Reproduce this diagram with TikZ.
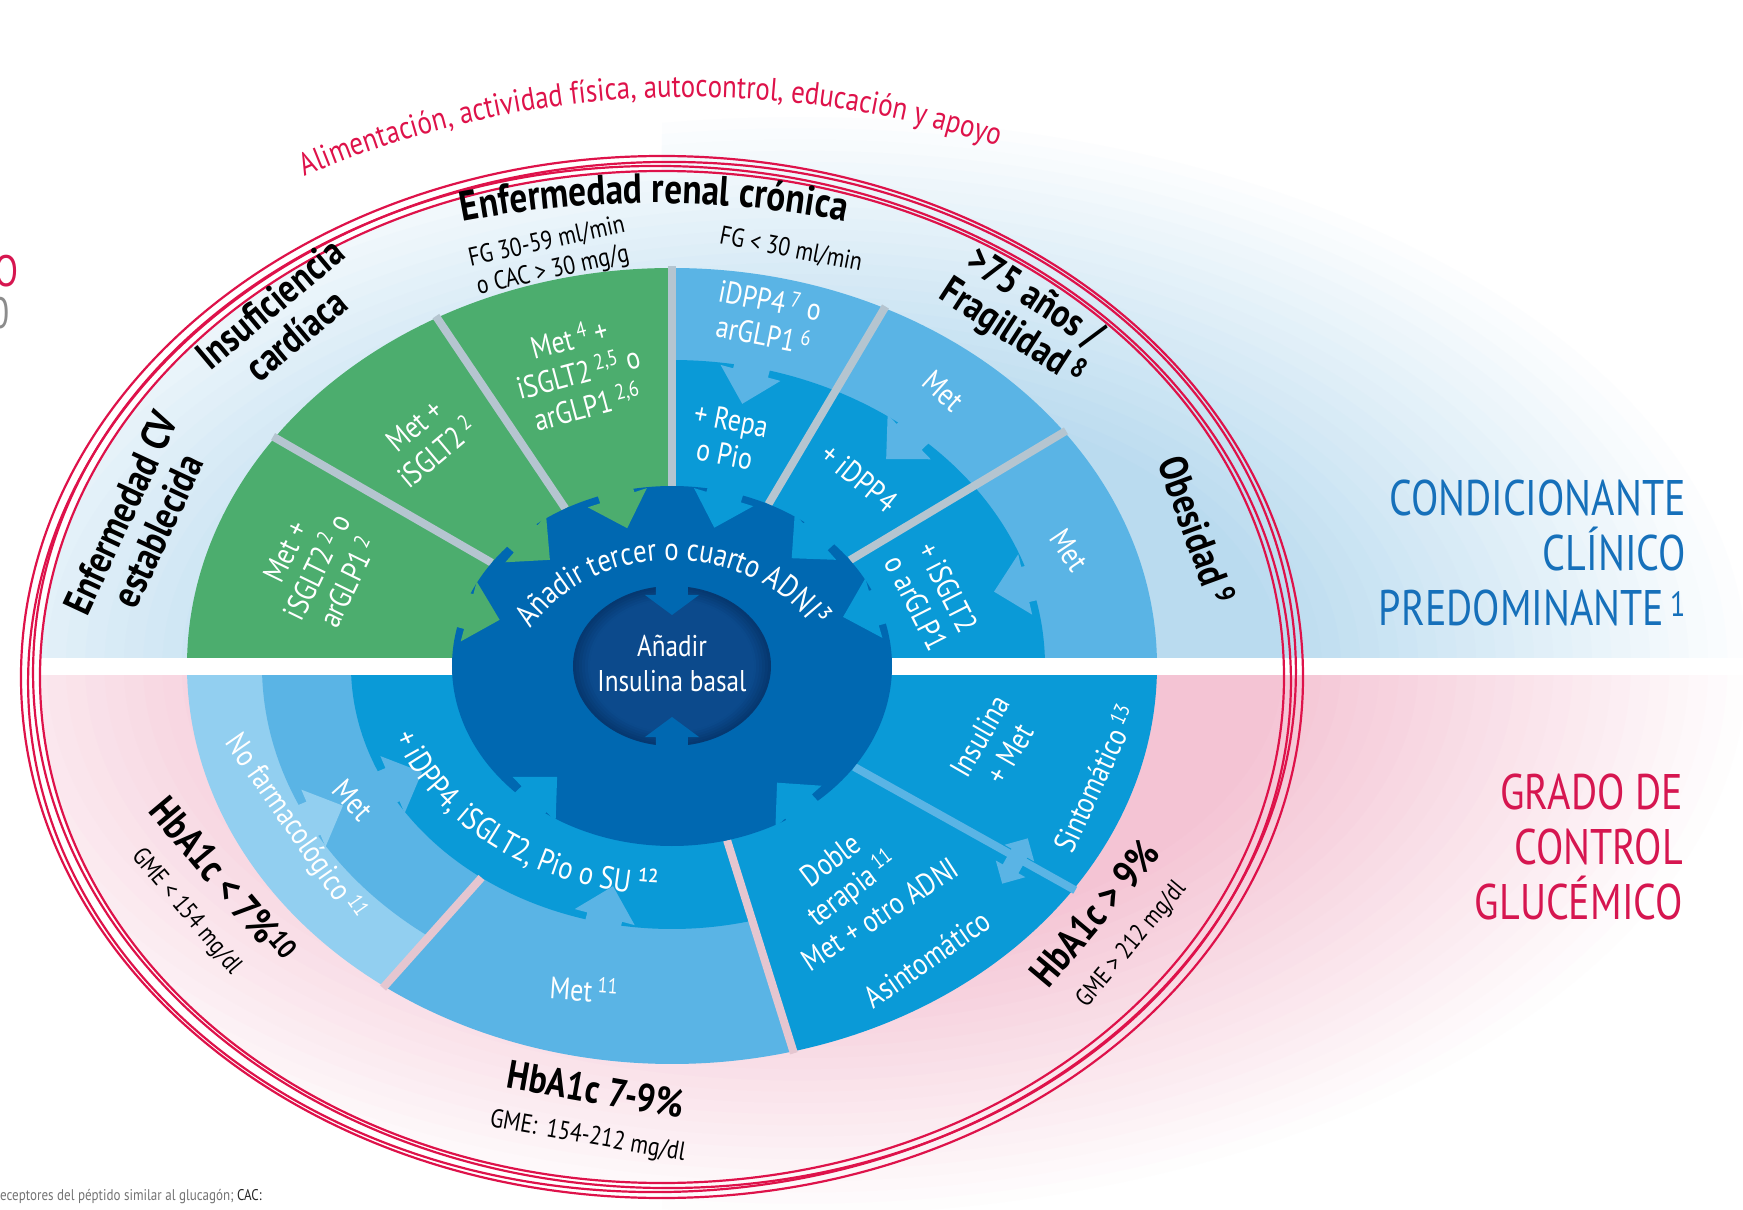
\documentclass[tikz,border=0pt]{standalone}
\usepackage{fontspec}
\setmainfont{PT Sans}[FakeStretch=0.84]
\newfontfamily\titlefont{PT Sans}[FakeStretch=0.8]
\usetikzlibrary{decorations.text}

\definecolor{cgreen}{RGB}{76,173,110}
\definecolor{clight}{RGB}{90,180,229}
\definecolor{cmed}{RGB}{10,154,215}
\definecolor{cdark}{RGB}{0,104,177}
\definecolor{cnavy}{RGB}{12,74,140}
\definecolor{cnavyedge}{RGB}{6,56,112}
\definecolor{cpale}{RGB}{146,207,240}
\definecolor{cgrey}{RGB}{181,197,208}
\definecolor{cpinkline}{RGB}{229,198,208}
\definecolor{cred}{RGB}{222,18,74}
\definecolor{ctitleblue}{RGB}{22,112,186}
\definecolor{ctitlered}{RGB}{214,22,80}
\definecolor{bgblue}{RGB}{186,219,239}
\definecolor{bgpink}{RGB}{244,196,212}

% soft elliptical fade used for both halves of the background
\newcommand\bgfade[1]{%
  \foreach \s in {1.00,0.98,...,0.49}{%
    \pgfmathsetmacro\p{min(100,(1-\s)*200)}%
    \fill[#1!\p!white] (128,0) ellipse ({966*\s} and {560*\s});
  }}
% elliptical pie slice: colour, start, end (parametric angles), x radius, y radius
\newcommand\wsector[5]{\fill[#1] (0,0) -- ({#4*cos(#2)},{#5*sin(#2)})
  arc[start angle=#2, end angle=#3, x radius=#4, y radius=#5] -- cycle;}
% radial divider: colour, angle, inner radii, outer radii
\newcommand\wsep[6]{\draw[#1, line width=8] ({#3*cos(#2)},{#4*sin(#2)}) -- ({#5*cos(#2)},{#6*sin(#2)});}
% block arrow crossing the ellipse (a,b) at a visual angle, pointing inwards
\newcommand\inarrow[4]{%
  \pgfmathsetmacro\rr{#3/sqrt(cos(#2)^2+(#3/#4)^2*sin(#2)^2)}%
  \pic[fill=#1, rotate=#2+180] at ({\rr*cos(#2)},{\rr*sin(#2)}) {blockarrow};}

\begin{document}
\begin{tikzpicture}[x=1pt,y=1pt,
  blockarrow/.pic={\path[pic actions] (-42,-18) -- (6,-18) -- (6,-31) -- (38,0) -- (6,31) -- (6,18) -- (-42,18) -- cycle;},
  notcharrow/.pic={\path[pic actions] (-34,-16) -- (0,-16) -- (0,-27) -- (20,0) -- (0,27) -- (0,16) -- (-34,16) -- cycle;},
  dblarrow/.pic={\path[pic actions] (-26,0) -- (-9,-17) -- (-9,-9) -- (9,-9) -- (9,-17) -- (26,0) -- (9,17) -- (9,9) -- (-9,9) -- (-9,17) -- cycle;},
  lbl/.style={font=\fontsize{40}{41}\selectfont\bfseries, align=center, inner sep=0pt, text=black},
  sublbl/.style={font=\fontsize{26}{29}\selectfont, align=center, inner sep=0pt, text=black},
  wlbl/.style={font=\fontsize{31}{35}\selectfont, align=center, inner sep=0pt, text=white},
  ttl/.style={anchor=north east, inner sep=0pt, align=right, font=\titlefont\fontsize{50}{55}\selectfont},
]
\useasboundingbox (-672,-544) rectangle (1071,666);

% ---------- backgrounds ----------
\begin{scope}
  \clip (-10,9) rectangle (1071,666);
  \bgfade{bgblue}
\end{scope}
\begin{scope}
  \clip (-672,9) rectangle (1071,666);
  \clip (-10,-11) ellipse (622 and 506);
  \bgfade{bgblue}
\end{scope}
\begin{scope}
  \clip (-10,-9) rectangle (1071,-544);
  \bgfade{bgpink}
\end{scope}
\begin{scope}
  \clip (-672,-9) rectangle (1071,-544);
  \clip (-10,-11) ellipse (622 and 506);
  \bgfade{bgpink}
\end{scope}

% ---------- red rings ----------
\begin{scope}[cred, line width=2.2]
  \draw (-10,-11) ellipse (641 and 521);
  \draw[rotate around={1.5:(-10,-11)}] (-10,-11) ellipse (634 and 515);
  \draw[rotate around={-1.2:(-10,-11)}] (-10,-11) ellipse (629 and 511);
  \draw (-10,-11) ellipse (622 and 506);
\end{scope}

% ---------- upper half: clinical condition ----------
\begin{scope}
  \clip (-700,9) rectangle (700,500);
  \wsector{cgreen}{90}{180}{485}{398}
  \wsector{clight}{0}{90}{485}{398}
  \wsector{cmed}{0}{90}{373}{306}
  \foreach \t in {145,119,90,64,36}{\wsep{cgrey}{\t}{220}{180}{487}{400}}
\end{scope}

% ---------- lower half: glycaemic control ----------
\begin{scope}
  \clip (-700,-9) rectangle (700,-500);
  \wsector{cpale}{180}{233.6}{485}{398}
  \wsector{clight}{233.6}{284.5}{485}{398}
  \wsector{cmed}{284.5}{360}{485}{398}
  \wsector{clight}{180}{233.6}{410}{336}
  \wsector{cmed}{180}{284.5}{321}{263}
  \wsep{cpinkline}{233.6}{321}{263}{487}{400}
  \wsep{cpinkline}{284.5}{220}{180}{487}{400}
  \wsep{clight}{325.9}{220}{180}{487}{400}
\end{scope}

% arrows between outer rings
\inarrow{clight}{75}{373}{306}
\inarrow{clight}{44}{373}{306}
\inarrow{clight}{13}{373}{306}
\inarrow{cpale}{203}{410}{336}
\inarrow{clight}{203}{321}{263}
\inarrow{clight}{255}{321}{263}
\pic[fill=clight, rotate=60.6] at (343,-195) {dblarrow};

% ---------- central disks ----------
\fill[cdark] (0,0) ellipse (220 and 180);
\inarrow{cgreen}{165}{220}{180}
\inarrow{cgreen}{139}{220}{180}
\inarrow{cgreen}{108}{220}{180}
\inarrow{cmed}{73}{220}{180}
\inarrow{cmed}{42}{220}{180}
\inarrow{cmed}{16}{220}{180}
\inarrow{cmed}{224}{220}{180}
\inarrow{cmed}{312}{220}{180}

\foreach \s in {1.00,0.97,...,0.84}{%
  \pgfmathsetmacro\p{(1-\s)*620}%
  \fill[cnavy!\p!cnavyedge] (0,0) ellipse ({99*\s} and {80*\s});}
\fill[cnavy] (0,0) ellipse (82 and 66);
\pic[fill=cdark, rotate=-90] at (0,71) {notcharrow};
\pic[fill=cdark, rotate=90] at (0,-71) {notcharrow};

% ---------- curved texts ----------
\path[decorate, decoration={text along path, text align=center, text color=cred,
  text={|\fontsize{32}{34}\selectfont|Alimentación, actividad física, autocontrol, educación y apoyo}}]
  ({19+978*cos(115)},{-409+978*sin(115)}) arc[start angle=115, end angle=70, radius=978];
\path[decorate, decoration={text along path, text align=center,
  text={|\fontsize{42}{44}\selectfont\bfseries|Enfermedad renal crónica}}]
  ({-18+1000*cos(112)},{-537+1000*sin(112)}) arc[start angle=112, end angle=68, radius=1000];
\path[decorate, decoration={text along path, text align=center, text color=white,
  text={|\fontsize{32}{34}\selectfont|Añadir tercer o cuarto ADNI³}}]
  ({165*cos(186)},{-36+142*sin(186)}) arc[start angle=186, end angle=-6, x radius=165, y radius=142];
\path[decorate, decoration={text along path, text align=center, text color=white,
  text={|\fontsize{32}{34}\selectfont|+ iDPP4, iSGLT2, Pio o SU ¹²}}]
  ({291*cos(183)},{229*sin(183)}) arc[start angle=183, end angle=279, x radius=291, y radius=229];

% ---------- outer labels ----------
\node[lbl, rotate=65] (cv) at (-533,144) {Enfermedad CV\\establecida};
\node[lbl, rotate=40] (ic) at (-389,347) {Insuficiencia\\cardíaca};
\node[sublbl, rotate=12.5] (fga) at (-122,409) {FG 30-59 ml/min\\o CAC > 30 mg/g};
\node[sublbl, rotate=-11] (fgb) at (119,416) {FG < 30 ml/min};
\node[lbl, rotate=-33] (age) at (351,349) {>75 años /\\Fragilidad\,\textsuperscript{8}};
\node[lbl, rotate=-70] (obes) at (525,136) {Obesidad\,\textsuperscript{9}};

\node[lbl, rotate=-50] (hba) at (-466,-229) {HbA1c < 7\%\textsuperscript{10}\\{\fontsize{25}{28}\selectfont\mdseries GME < 154 mg/dl}};
\node[lbl, rotate=-10] (hbb) at (-80,-446) {HbA1c 7-9\%\\{\fontsize{26}{28}\selectfont\mdseries GME:\, 154-212 mg/dl}};
\node[lbl, rotate=50] (hbc) at (440,-262) {HbA1c > 9\%\\{\fontsize{25}{28}\selectfont\mdseries GME > 212 mg/dl}};

% ---------- labels inside the wheel ----------
\node[wlbl, rotate=64] (w1) at (-355,99) {Met +\\iSGLT2\,\textsuperscript{2} o\\arGLP1\,\textsuperscript{2}};
\node[wlbl, rotate=40] (w2) at (-246,227) {Met +\\iSGLT2\,\textsuperscript{2}};
\node[wlbl, rotate=15] (w3) at (-94,294) {Met\,\textsuperscript{4} +\\iSGLT2\,\textsuperscript{2,5} o\\arGLP1\,\textsuperscript{2,6}};
\node[wlbl, rotate=-11] (w4) at (95,349) {iDPP4\,\textsuperscript{7} o\\arGLP1\,\textsuperscript{6}};
\node[wlbl, rotate=-11] (w5) at (56,229) {+ Repa\\o Pio};
\node[wlbl, rotate=-42] (w6) at (271,275) {Met};
\node[wlbl, rotate=-39] (w7) at (187,188) {+ iDPP4};
\node[wlbl, rotate=-56] (w8) at (397,116) {Met};
\node[wlbl, rotate=-63] (w9) at (260,71) {+ iSGLT2\\o arGLP1};
\node[wlbl, font=\fontsize{30}{35}\selectfont] (ins) at (0,3) {Añadir\\Insulina basal};
\node[wlbl, rotate=-55] (w10) at (-377,-162) {No farmacológico\,\textsuperscript{11}};
\node[wlbl, rotate=-48] (w11) at (-319,-134) {Met};
\node[wlbl, rotate=-4] (w12) at (-88,-323) {Met\,\textsuperscript{11}};
\node[wlbl, rotate=37] (w13) at (171,-210) {Doble\\terapia\,\textsuperscript{11}};
\node[wlbl, rotate=33] (w14) at (208,-248) {Met + otro ADNI};
\node[wlbl, rotate=35] (w15) at (255,-293) {Asintomático};
\node[wlbl, rotate=60] (w16) at (323,-79) {Insulina\\+ Met};
\node[wlbl, rotate=65] (w17) at (423,-112) {Sintomático\,\textsuperscript{13}};

% ---------- side titles ----------
\node[ttl, text=ctitleblue] (cond) at (1014,186) {CONDICIONANTE\\CLÍNICO\hspace*{12pt}\\PREDOMINANTE\textsuperscript{\,1}};
\node[ttl, text=ctitlered] (grado) at (1011,-108) {GRADO DE\\CONTROL\hspace*{10pt}\\GLUCÉMICO};

% ---------- page remnants ----------
\node[anchor=base east, inner sep=0pt, font=\titlefont\fontsize{44}{44}\selectfont, text=ctitlered] (cuto) at (-653,379) {O};
\node[anchor=base east, inner sep=0pt, font=\titlefont\fontsize{44}{44}\selectfont, text=black!45] (cutz) at (-662,337) {0};
\node[anchor=base west, inner sep=0pt, font=\fontsize{15.5}{17}\selectfont, text=black!55] (foot) at (-672,-534) {eceptores del péptido similar al glucagón; \textcolor{black!85}{CAC:}};
\end{tikzpicture}
\end{document}
